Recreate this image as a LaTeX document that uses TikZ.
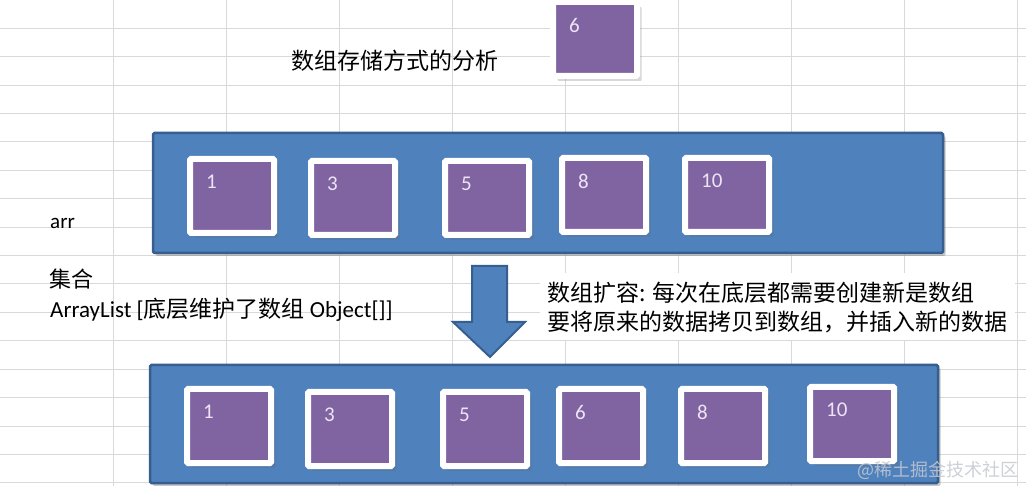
\documentclass[tikz,border=0pt]{standalone}
\usepackage{fontspec}
\usetikzlibrary{shadows}
\setmainfont{Carlito}
\newfontfamily\cjk{Noto Sans CJK SC}
\definecolor{barblue}{HTML}{4F81BD}
\definecolor{bardark}{HTML}{365F8F}
\definecolor{cellpurple}{HTML}{8064A2}
\definecolor{numtext}{HTML}{EDE4F5}
\definecolor{gridgray}{HTML}{D9D9D9}
\definecolor{wmark}{HTML}{C4C8D0}
\newcommand\arrcell[4]{%
  \node[cell] (#1) at (#2,#3) {};
  \node[num] (#1n) at (#2+19,#3+26) {#4};}
\begin{document}
\begin{tikzpicture}[x=1pt,y=-1pt,
  bar/.style={fill=barblue,draw=bardark,line width=2.5pt,rounded corners=1.5pt,
    drop shadow={shadow xshift=2.5pt,shadow yshift=-3pt,opacity=0.3,fill=black!70}},
  cell/.style={fill=cellpurple,draw=white,line width=6pt,rounded corners=1pt,
    minimum width=84pt,minimum height=74pt,inner sep=0pt,anchor=north west,
    drop shadow={shadow xshift=4.5pt,shadow yshift=-5pt,opacity=0.25,fill=black!60}},
  num/.style={text=numtext,font=\fontsize{21}{25}\selectfont,inner sep=0pt,anchor=west},
  lbl/.style={inner sep=0pt,anchor=base west},
  bigarrow/.style={fill=barblue,draw=bardark,line width=2pt,line join=miter}]
\useasboundingbox (0,0) rectangle (1026,486);
\fill[white] (0,0) rectangle (1026,486);
% spreadsheet grid
\foreach \k in {1,...,9} \draw[gridgray,line width=1pt] (113.1*\k,0) -- (113.1*\k,486);
\foreach \k in {1,...,17} \draw[gridgray,line width=1pt] (0,28.4*\k) -- (1026,28.4*\k);
% title
\node[lbl,font=\cjk\fontsize{23}{28}\selectfont] (title) at (291,70) {数组存储方式的分析};
% element to insert
\arrcell{new6}{550}{-1}{6}
% top array
\draw[bar] (153,133) rectangle (943,253);
\arrcell{a1}{187}{156}{1}
\arrcell{a3}{308}{158}{3}
\arrcell{a5}{442}{158}{5}
\arrcell{a8}{559}{155}{8}
\arrcell{a10}{682}{155}{10}
% left labels
\node[lbl,font=\fontsize{21}{25}\selectfont] (arr) at (50,229) {arr};
\node[lbl,font=\cjk\fontsize{22}{26}\selectfont] (coll) at (49,288) {集合};
\node[lbl,font=\fontsize{23}{28}\selectfont] (alist) at (50,318) {ArrayList [{\cjk 底层维护了数组} Object[]]};
% down arrow
\draw[bigarrow] (472,266) -- (507,266) -- (507,322) -- (525,322) -- (490,357)
  -- (453,322) -- (472,322) -- cycle;
% explanation
\fill[white] (540,273) rectangle (1015,340);
\node[lbl,font=\cjk\fontsize{23}{28}\selectfont] (exp1) at (547,302) {数组扩容: 每次在底层都需要创建新是数组};
\node[lbl,font=\cjk\fontsize{23}{28}\selectfont] (exp2) at (547,331) {要将原来的数据拷贝到数组，并插入新的数据};
% bottom array
\draw[bar] (150,365) rectangle (938,483);
\arrcell{b1}{184}{386}{1}
\arrcell{b3}{305}{389}{3}
\arrcell{b5}{440}{389}{5}
\arrcell{b6}{556}{386}{6}
\arrcell{b8}{678}{386}{8}
\arrcell{b10}{807}{384}{10}
% watermark
\node[lbl,text=wmark,opacity=0.85,font=\cjk\fontsize{18}{22}\selectfont] (wm) at (857,476) {@稀土掘金技术社区};
\end{tikzpicture}
\end{document}
